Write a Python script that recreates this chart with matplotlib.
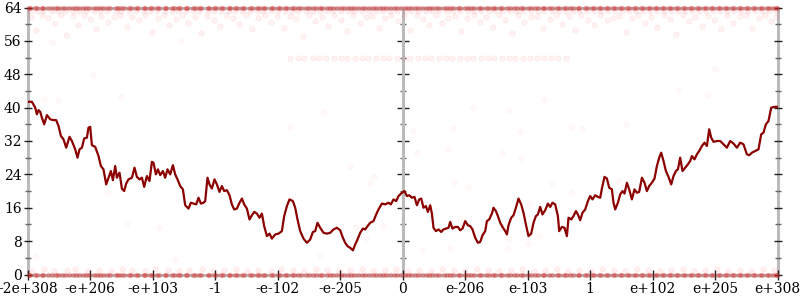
import numpy as np
import matplotlib
matplotlib.use('Agg')
import matplotlib.pyplot as plt

plt.rcParams['font.family'] = 'DejaVu Serif'

# x positions run 0..750 along the axis, tick labels are evenly spaced on it
tick_labels = ['-2e+308', '-e+206', '-e+103', '-1', '-e-102', '-e-205', '0',
               'e-206', 'e-103', '1', 'e+102', 'e+205', 'e+308']

line_x = [0, 4.2, 7.5, 9.2, 10.8, 12.5, 14.2, 16.5, 19.2, 22.5, 25.8, 28.5, 30.8, 33.2, 35.8,
          38.5, 41.8, 44.2, 47.5, 49.8, 51.8, 54.2, 56.5, 59.2, 60.8, 62.5, 64.2, 67.5, 70.8,
          73.2, 75.8, 78.5, 80.8, 83.2, 85.2, 87.5, 89.2, 91.8, 94.2, 96.5, 98.5, 100.8, 104.2,
          106.8, 109.2, 111.8, 114.2, 116.5, 119.2, 121.8, 124.2, 125.8, 128.2, 130.2, 132.5,
          135.2, 137.5, 139.8, 142.5, 145.2, 147.5, 149.8, 152.5, 155.2, 157.5, 160.8, 163.2,
          165.8, 168.5, 170.8, 173.2, 175.8, 177.5, 179.8, 181.8, 184.2, 186.8, 189.2, 191.8,
          194.2, 196.5, 199.2, 201.8, 204.2, 206.5, 209.2, 211.8, 214.2, 216.5, 219.2, 221.8,
          224.2, 226.5, 229.2, 231.8, 234.2, 236.5, 239.2, 241.8, 244.2, 247.5, 250.8, 254.2,
          256.5, 259.2, 261.8, 265.2, 267.5, 269.8, 272.5, 275.8, 279.2, 282.5, 285.2, 287.5,
          289.8, 292.5, 295.8, 299.2, 302.5, 305.8, 309.2, 312.5, 315.2, 317.5, 319.8, 322.5,
          325.2, 327.5, 329.8, 332.5, 335.2, 337.5, 339.8, 342.5, 345.8, 348.5, 350.8, 354.2,
          357.5, 360.8, 363.2, 365.8, 368.5, 370.8, 374.2, 376.8, 379.2, 381.5, 384.2, 386.8,
          389.2, 391.5, 393.5, 395.8, 398.2, 400.2, 402.5, 404.2, 405.8, 408.2, 410.8, 413.5,
          415.8, 418.2, 420.8, 422.5, 424.8, 427.5, 430.2, 432.5, 434.8, 437.5, 440.2, 442.5,
          444.8, 447.5, 450.2, 452.5, 454.8, 457.5, 459.2, 461.5, 464.2, 465.8, 468.2, 470.2,
          472.5, 474.8, 477.5, 479.2, 480.8, 483.5, 485.8, 488.2, 490.8, 493.5, 495.8, 498.2,
          500.8, 503.5, 505.8, 508.2, 510.2, 512.5, 514.8, 517.5, 520.2, 522.5, 524.8, 527.5,
          530.2, 531.5, 534.2, 536.8, 539.2, 540.8, 543.5, 545.8, 548.2, 550.2, 552.5, 554.8,
          557.5, 560.2, 562.5, 564.8, 567.5, 570.2, 572.5, 574.2, 576.8, 579.2, 581.5, 584.2,
          585.8, 587.5, 590.2, 592.5, 594.8, 596.8, 599.2, 601.5, 604.2, 606.8, 609.2, 611.5,
          614.2, 616.8, 619.2, 621.5, 624.2, 626.8, 629.2, 631.5, 633.5, 635.8, 638.2, 640.8,
          643.5, 645.8, 648.2, 650.2, 652.5, 654.8, 657.5, 660.2, 662.5, 664.2, 666.8, 669.2,
          671.5, 674.2, 676.8, 679.2, 681.5, 683.5, 685.8, 689.2, 692.5, 695.8, 699.2, 702.5,
          705.8, 709.2, 712.5, 715.8, 719.2, 721.5, 724.2, 727.5, 730.8, 733.5, 735.8, 738.2,
          740.8, 743.5, 747.5, 750]
line_y = [41.4, 41.4, 40, 38.4, 39.4, 39, 37.6, 36, 38.2, 37.2, 37, 37, 35.6, 33.2, 32.4,
          30.4, 33, 32, 30, 28, 30, 30.4, 32.6, 32.8, 35.2, 35.4, 31, 30.6, 28.4,
          26, 25.2, 21.6, 23.2, 24.8, 22.6, 26, 23.2, 24.4, 20.6, 20, 21.8, 22.8, 23.2,
          25.6, 23.4, 22.8, 23.2, 21, 23.6, 22.4, 27, 26.8, 24, 25.2, 23.8,
          24.8, 23.2, 25.2, 24, 26.2, 24, 22.8, 21.2, 20.4, 16.6, 15.8, 17.2,
          17, 16.8, 18.4, 17, 17.2, 17.6, 23.2, 21.6, 20.6, 22.8, 21.6, 19.8,
          21.2, 20, 20.2, 19, 16.8, 15.6, 15.8, 17.2, 18.2, 16.8, 15.8, 13.2,
          14.2, 15, 14.6, 13.6, 14.6, 11.6, 9.2, 9.8, 8.6, 9.6, 9.8, 10.4,
          14, 16.4, 18, 17.6, 16, 13.2, 10.4, 8.6, 7.6, 8.4, 10.2, 10.4,
          12.4, 11.2, 10, 9.8, 10, 10.8, 11.2, 10.6, 8.8, 7.6, 6.8, 6.4,
          5.8, 7.2, 8.4, 10, 11, 10.8, 11.6, 12.4, 12.8, 14.4, 15.6, 17,
          16.8, 17.2, 16.8, 18, 17.6, 18.8, 19.6, 20, 18.8, 19, 18.4, 18.6,
          16.6, 18, 18.2, 16, 16.4, 15, 16.6, 14.6, 11.2, 10.4, 10.8, 10.2,
          10.8, 11, 11.2, 12.6, 11, 11.4, 11.4, 10.6, 11, 12.8, 11.8, 11.6,
          10.8, 8.8, 7.6, 7.8, 9.4, 10.4, 12.8, 13.2, 14.6, 16, 15.2, 14,
          12.4, 11.4, 10.4, 9.6, 11.8, 13.6, 14.2, 16, 18.2, 16.8, 14.8, 12,
          9.2, 9.8, 12.4, 14, 14.4, 16.2, 14.4, 15.4, 17, 16.2, 17.2, 16.8,
          14, 10.4, 11.4, 11.2, 9.2, 13.6, 13.2, 14, 15.2, 14.4, 13, 14.8,
          15.6, 17.6, 18.8, 18, 19, 18.6, 18.4, 20.6, 23.4, 23, 20.8, 20.4,
          17.2, 15.6, 17.2, 19.2, 20, 19.4, 22, 20.4, 18, 20.4, 19.6, 19.8,
          23.2, 22, 20, 21.2, 22, 23, 26, 28, 29.2, 27.2, 24.8, 23.4,
          21.6, 23.6, 24.8, 25.2, 28, 24.8, 25.6, 26.4, 27.2, 28.4, 27.6, 28.8,
          29.6, 30.8, 31.6, 30.8, 34.8, 32.8, 31.8, 32, 32, 31.2, 30.4, 32,
          31.4, 30.4, 31.6, 31.2, 28.8, 28.6, 29.2, 29.6, 30, 33.6, 34, 36,
          36.8, 40, 40.2, 40.2]

# dense bands of samples at the extremes
band_top_x = [2, 9, 15, 24, 30, 37, 45, 51, 58, 66, 72, 79, 88, 93, 101, 108, 116, 122, 129,
              137, 144, 150, 158, 165, 171, 180, 186, 193, 201, 207, 214, 222, 229, 235, 243,
              250, 257, 264, 270, 278, 285, 292, 299, 305, 313, 320, 326, 334, 341, 348, 355,
              362, 369, 377, 383, 390, 398, 404, 411, 419, 425, 432, 440, 446, 453, 461, 467,
              474, 482, 489, 495, 503, 510, 516, 524, 531, 538, 545, 551, 559, 566, 573, 580,
              587, 594, 601, 608, 615, 622, 629, 636, 643, 650, 657, 664, 671, 678, 685, 692,
              699, 706, 713, 720, 727, 734, 741, 748]
band_bot_x = [1, 7, 14, 20, 28, 34, 41, 48, 55, 61, 69, 75, 82, 90, 96, 103, 110, 117, 124,
              131, 138, 146, 152, 159, 167, 173, 181, 188, 195, 202, 209, 216, 224, 231, 237,
              245, 252, 259, 266, 273, 281, 288, 294, 302, 309, 316, 323, 330, 337, 345, 352,
              358, 366, 373, 380, 387, 394, 401, 408, 416, 422, 430, 437, 443, 451, 458, 465,
              472, 479, 486, 493, 500, 507, 515, 521, 529, 536, 542, 550, 557, 564, 571, 578,
              585, 592, 599, 606, 613, 620, 627, 634, 641, 648, 655, 662, 669, 676, 683, 690,
              697, 704, 711, 718, 725, 732, 739, 745, 749]

high_x = [3, 8, 14, 20, 27, 33, 38, 45, 50, 56, 62, 68, 73, 80, 86, 92, 99, 104, 111, 117, 124,
          130, 136, 141, 148, 154, 160, 167, 173, 179, 186, 192, 198, 205, 211, 218, 224, 230,
          237, 243, 249, 256, 262, 268, 275, 281, 287, 294, 300, 306, 313, 319, 325, 332, 338,
          344, 351, 357, 363, 370, 376, 382, 389, 395, 401, 408, 414, 420, 427, 433, 439, 446,
          452, 458, 465, 471, 477, 484, 490, 496, 503, 509, 515, 522, 528, 534, 541, 547, 553,
          560, 566, 572, 579, 585, 591, 598, 604, 610, 617, 623, 629, 636, 642, 648, 655, 661,
          667, 674, 680, 686, 693, 699, 705, 712, 718, 724, 731, 737, 743, 748]
high_y = [61.8, 58.5, 62.1, 61.5, 60.2, 62.3, 57.5, 61.9, 59.8, 62.2, 61.2, 58.8, 62.0, 60.5,
          61.7, 62.3, 59.3, 61.8, 60.9, 62.2, 58.2, 61.5, 62.1, 59.9, 61.2, 62.3, 60.3, 61.8,
          57.8, 62.0, 61.1, 59.5, 62.2, 61.6, 60.0, 62.1, 58.9, 61.4, 62.3, 60.6, 61.9, 59.2,
          62.0, 61.3, 57.2, 62.2, 60.8, 61.7, 59.6, 62.1, 61.0, 58.4, 62.3, 60.4, 61.8, 62.0,
          59.1, 61.5, 62.2, 60.7, 61.9, 58.7, 62.1, 61.2, 59.9, 62.3, 60.2, 61.6, 62.0, 58.3,
          61.4, 62.2, 60.5, 61.8, 59.4, 62.1, 61.1, 57.9, 62.3, 60.6, 61.7, 62.0, 59.0, 61.3,
          62.2, 60.1, 61.9, 58.6, 62.1, 61.0, 59.7, 62.3, 60.9, 61.6, 62.0, 58.1, 61.5, 62.2,
          60.3, 61.8, 59.3, 62.1, 61.2, 57.6, 62.3, 60.8, 61.7, 59.6, 62.0, 61.1, 58.9, 62.2,
          60.4, 61.9, 62.1, 59.2, 61.4, 62.3, 60.7, 61.8]

low_x = [4, 16, 26, 39, 47, 60, 71, 83, 94, 104, 117, 127, 140, 151, 161, 174, 185, 196, 208,
         219, 230, 243, 253, 265, 276, 288, 299, 311, 322, 334, 345, 357, 368, 380, 391, 403,
         414, 426, 437, 449, 460, 471, 483, 494, 506, 517, 529, 540, 551, 563, 574, 586, 597,
         609, 620, 632, 643, 655, 666, 677, 689, 700, 712, 723, 735, 746]
low_y = [0.9, 1.2, 0.8, 1.0, 1.3, 0.9, 1.1, 0.8, 1.2, 1.0, 0.9, 1.3, 1.0, 0.8, 1.1, 1.2, 0.9,
         1.0, 1.3, 0.8, 1.1, 0.9, 1.2, 1.0, 0.8, 1.3, 1.0, 0.9, 1.1, 1.2, 0.8, 1.0, 1.3, 0.9,
         1.1, 0.8, 1.2, 1.0, 0.9, 1.3, 1.0, 0.8, 1.1, 1.2, 0.9, 1.0, 1.3, 0.8, 1.1, 0.9, 1.2,
         1.0, 0.8, 1.3, 1.0, 0.9, 1.1, 1.2, 0.8, 1.0, 1.3, 0.9, 1.1, 0.8, 1.2, 1.0]

row_x = [262, 270, 276, 285, 291, 298, 306, 313, 319, 327, 334, 340, 348, 355, 361, 369, 376,
         382, 390, 397, 403, 411, 418, 424, 432, 439, 445, 453, 460, 466, 474, 481, 487, 495,
         502, 509, 516, 523, 530, 538]
row_level = 51.8

sparse_x = [16, 30, 93, 80, 99, 131, 262, 296, 322, 342, 346, 328, 355, 292, 147, 7, 385, 445,
            481, 516, 425, 492, 544, 554, 598, 389, 420, 475, 492, 427, 440, 524, 544, 501, 432,
            511, 481, 500, 422, 394, 480, 650, 679, 590, 687, 65, 24, 153, 338]
sparse_y = [42, 41.8, 42.6, 19.5, 12.1, 11.4, 35.4, 39, 26, 22, 23.4, 11.4, 11.6, 4.4, 3.7, 4.2,
            34.4, 40.2, 39.5, 42, 35.1, 34.4, 35.4, 34.9, 36, 29.1, 30, 29.1, 28, 22.2, 21,
            21.7, 19.5, 17.1, 13.5, 9.2, 8.5, 7.3, 6.3, 5.9, 6.1, 44.2, 43, 22.4, 49.3, 47.8,
            55.8, 56, 8.5]

fig = plt.figure(figsize=(8, 3), dpi=100)
ax = fig.add_axes([27.7 / 800, 25.5 / 300, 750 / 800, 267 / 300])

red = '#ff2020'
band_x = band_top_x + band_bot_x
ax.scatter(band_x, [64] * len(band_x), s=14, color='#dd2222', alpha=0.34, lw=0, clip_on=False, zorder=3)
ax.scatter(band_x, [0] * len(band_x), s=14, color='#dd2222', alpha=0.34, lw=0, clip_on=False, zorder=3)
ax.scatter(band_top_x, [63.2] * len(band_top_x), s=14, color=red, alpha=0.06, clip_on=False, zorder=1)
ax.scatter(high_x, high_y, s=14, color=red, alpha=0.05, zorder=1)
ax.scatter(low_x, low_y, s=14, color=red, alpha=0.06, zorder=1)
ax.scatter(row_x, [row_level] * len(row_x), s=14, color=red, alpha=0.05, zorder=1)
ax.scatter(sparse_x, sparse_y, s=14, color=red, alpha=0.025, zorder=1)

ax.plot(line_x, line_y, color='#8b0000', lw=1.6, zorder=4)

ax.set_xlim(0, 750)
ax.set_ylim(0, 64)

gray = '#bbbbbb'
for side in ['left', 'right', 'top', 'bottom']:
    ax.spines[side].set_color(gray)
    ax.spines[side].set_linewidth(2.2)
    ax.spines[side].set_zorder(0.5)

ax.set_xticks(np.linspace(0, 750, len(tick_labels)))
ax.set_xticklabels(tick_labels, fontsize=10)
ax.set_yticks(range(0, 65, 8))
ax.set_yticks(range(4, 64, 8), minor=True)
for lab in ax.get_yticklabels():
    lab.set_fontsize(10)

ax.tick_params(axis='x', direction='inout', length=7, width=1, color='#222222', pad=2)
ax.tick_params(axis='y', which='major', direction='inout', length=6, width=1,
               color='#222222', pad=1.5, right=True, labelright=False)
ax.tick_params(axis='y', which='minor', direction='inout', length=4, width=1,
               color='#666666', right=True)

mid = ax.secondary_yaxis(0.5)
mid.set_yticks(range(0, 65, 8))
mid.set_yticks(range(4, 64, 8), minor=True)
mid.set_yticklabels([])
mid.tick_params(which='major', direction='inout', length=8, width=1, color='#222222',
                labelleft=False, labelright=False)
mid.tick_params(which='minor', direction='inout', length=4, width=1, color='#666666')
for side in mid.spines:
    mid.spines[side].set_color(gray)
    mid.spines[side].set_linewidth(2.2)

fig.savefig('out.png', dpi=100)
